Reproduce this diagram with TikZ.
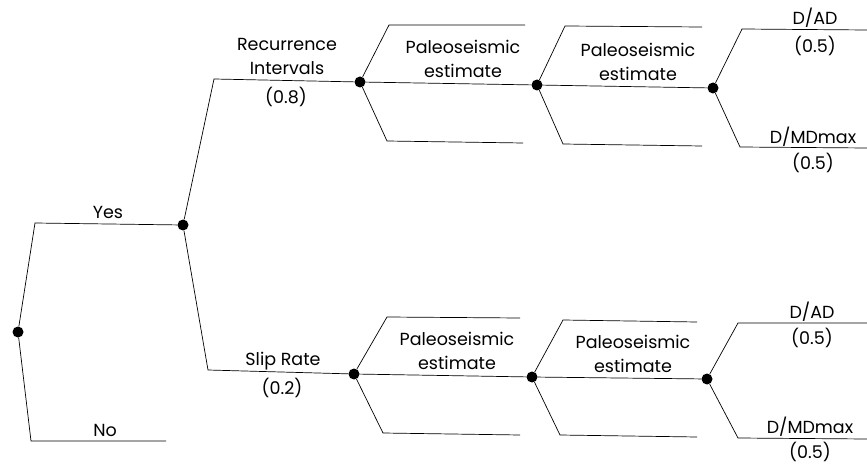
\documentclass[tikz,border=0pt]{standalone}
\usepackage{fontspec}
\setmainfont{Poppins}
\usetikzlibrary{positioning}
\tikzset{
  chance/.style={circle,fill=black,minimum size=11pt,inner sep=0pt},
  lbl/.style={font=\fontsize{17.5}{24}\selectfont,align=center,inner sep=0pt},
  br/.style={line width=0.7pt},
}
\begin{document}
\begin{tikzpicture}[x=1pt,y=-1pt]
  \useasboundingbox (0,0) rectangle (867,470);
  % chance nodes
  \node[chance] (root) at (18,332) {};
  \node[chance] (yes) at (183,225) {};
  \node[chance] (ri) at (360,82) {};
  \node[chance] (ri2) at (537,85) {};
  \node[chance] (ri3) at (713,88) {};
  \node[chance] (sr) at (354,374) {};
  \node[chance] (sr2) at (532,377) {};
  \node[chance] (sr3) at (707,379) {};
  % corners and loose ends
  \coordinate (yesk) at (35,223);
  \coordinate (nok) at (31,441);
  \coordinate (noend) at (166,441);
  \coordinate (rik) at (214,79);
  \coordinate (srk) at (208,370);
  \coordinate (riuk) at (389,25);  \coordinate (riue) at (525,25);
  \coordinate (ridk) at (387,141); \coordinate (ride) at (523,143);
  \coordinate (ri2uk) at (565,26); \coordinate (ri2ue) at (702,27);
  \coordinate (ri2dk) at (563,144); \coordinate (ri2de) at (702,146);
  \coordinate (ri3uk) at (742,29); \coordinate (ri3ue) at (867,30);
  \coordinate (ri3dk) at (740,147); \coordinate (ri3de) at (867,148);
  \coordinate (sruk) at (387,317); \coordinate (srue) at (520,318);
  \coordinate (srdk) at (383,433); \coordinate (srde) at (520,435);
  \coordinate (sr2uk) at (563,320); \coordinate (sr2ue) at (697,322);
  \coordinate (sr2dk) at (560,435); \coordinate (sr2de) at (697,437);
  \coordinate (sr3uk) at (738,323); \coordinate (sr3ue) at (867,323);
  \coordinate (sr3dk) at (738,438); \coordinate (sr3de) at (867,439);
  % first split
  \draw[br] (root) -- (yesk) -- (yes);
  \draw[br] (root) -- (nok) -- (noend);
  \draw[br] (yes) -- (rik) -- (ri);
  \draw[br] (yes) -- (srk) -- (sr);
  % recurrence intervals
  \draw[br] (ri) -- (riuk) -- (riue);
  \draw[br] (ri) -- (ri2);
  \draw[br] (ri) -- (ridk) -- (ride);
  \draw[br] (ri2) -- (ri2uk) -- (ri2ue);
  \draw[br] (ri2) -- (ri3);
  \draw[br] (ri2) -- (ri2dk) -- (ri2de);
  \draw[br] (ri3) -- (ri3uk) -- (ri3ue);
  \draw[br] (ri3) -- (ri3dk) -- (ri3de);
  % slip rate
  \draw[br] (sr) -- (sruk) -- (srue);
  \draw[br] (sr) -- (sr2);
  \draw[br] (sr) -- (srdk) -- (srde);
  \draw[br] (sr2) -- (sr2uk) -- (sr2ue);
  \draw[br] (sr2) -- (sr3);
  \draw[br] (sr2) -- (sr2dk) -- (sr2de);
  \draw[br] (sr3) -- (sr3uk) -- (sr3ue);
  \draw[br] (sr3) -- (sr3dk) -- (sr3de);
  % labels
  \node[lbl] (lyes) at (108,212) {Yes};
  \node[lbl] (lno) at (105,430) {No};
  \node[lbl] (lri) at (287,56) {Recurrence\\Intervals};
  \node[lbl] (pri) at (286,97) {(0.8)};
  \node[lbl] (lsr) at (283,361) {Slip Rate};
  \node[lbl] (psr) at (282,388) {(0.2)};
  \node[lbl] (lri2) at (463,59) {Paleoseismic\\estimate};
  \node[lbl] (lri3) at (638,62) {Paleoseismic\\estimate};
  \node[lbl] (lsr2) at (457,351) {Paleoseismic\\estimate};
  \node[lbl] (lsr3) at (633,354) {Paleoseismic\\estimate};
  \node[lbl] (lad1) at (815,18) {D/AD};
  \node[lbl] (pad1) at (815,46) {(0.5)};
  \node[lbl] (lmd1) at (813,137) {D/MDmax};
  \node[lbl] (pmd1) at (813,163) {(0.5)};
  \node[lbl] (lad2) at (812,312) {D/AD};
  \node[lbl] (pad2) at (812,338) {(0.5)};
  \node[lbl] (lmd2) at (810,427) {D/MDmax};
  \node[lbl] (pmd2) at (810,452) {(0.5)};
\end{tikzpicture}
\end{document}
